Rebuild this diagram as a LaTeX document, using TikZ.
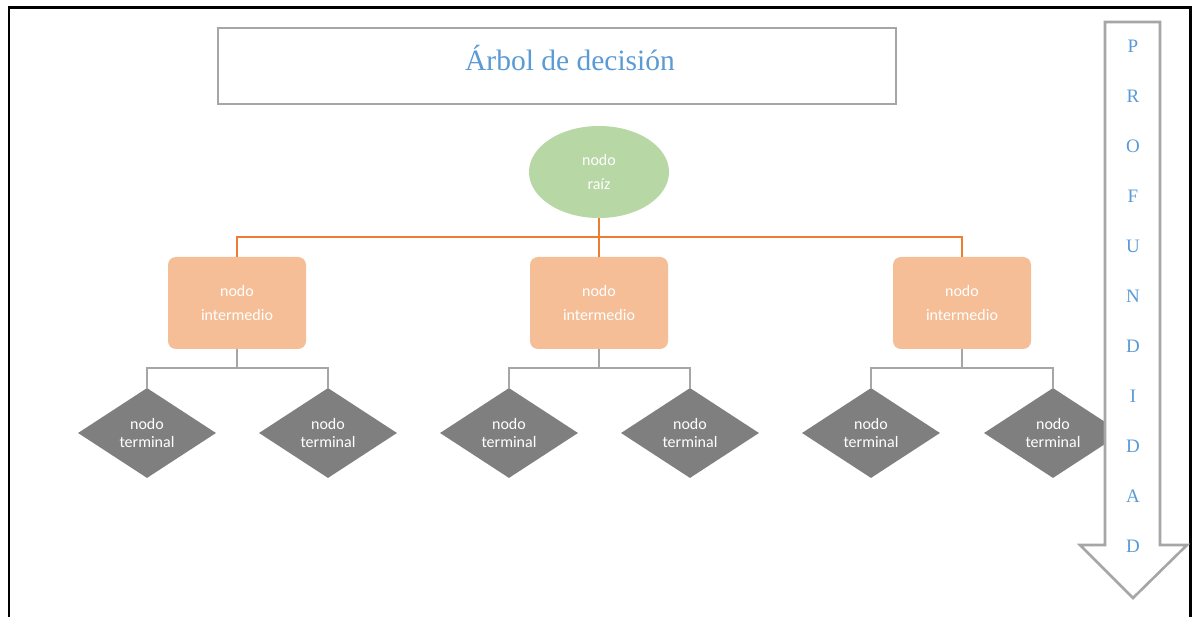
\documentclass[tikz,border=0pt]{standalone}
\usepackage{fontspec}
\setmainfont{Liberation Serif}
\newfontfamily\calib{Carlito}
\usetikzlibrary{shapes.geometric}
\definecolor{titleblue}{HTML}{5B9BD5}
\definecolor{rootgreen}{HTML}{B7D7A5}
\definecolor{midorange}{HTML}{F5BE96}
\definecolor{lineorange}{HTML}{ED7D31}
\definecolor{termgray}{HTML}{7F7F7F}
\definecolor{linegray}{HTML}{A6A6A6}
\tikzset{
  rootnode/.style={ellipse, fill=rootgreen, minimum width=140pt, minimum height=92pt, inner sep=0pt, text=white, align=center, font=\calib\fontsize{16}{24.5}\selectfont},
  midnode/.style={rectangle, rounded corners=8pt, fill=midorange, minimum width=138pt, minimum height=92pt, inner sep=0pt, text=white, align=center, font=\calib\fontsize{16}{24.5}\selectfont},
  termnode/.style={diamond, fill=termgray, minimum width=138pt, minimum height=90pt, inner sep=0pt, text=white, align=center, font=\calib\fontsize{16}{17.5}\selectfont},
  orangeline/.style={draw=lineorange, line width=2.8pt},
  grayline/.style={draw=linegray, line width=2.6pt},
  letter/.style={text=titleblue, font=\fontsize{19}{19}\selectfont, inner sep=0pt},
}
\begin{document}
\begin{tikzpicture}[x=1pt,y=-1pt]
\useasboundingbox (0,0) rectangle (1192,617);
\fill[white] (0,0) rectangle (1192,617);
% outer frame
\draw[black, line width=2.8pt] (9,640) -- (9,7.5) -- (1190.5,7.5) -- (1190.5,640);
% title
\node[draw=linegray, line width=2.6pt, minimum width=678pt, minimum height=76pt, inner sep=0pt] (titlebox) at (557,66) {};
\node[text=titleblue, font=\fontsize{29.5}{29.5}\selectfont, inner sep=0pt] (title) at (570,57.5) {Árbol de decisión};
% root
\node[rootnode] (root) at (599,172) {nodo\\raíz};
% intermediate
\node[midnode] (i1) at (237,303) {nodo\\intermedio};
\node[midnode] (i2) at (599,303) {nodo\\intermedio};
\node[midnode] (i3) at (962,303) {nodo\\intermedio};
% terminals
\node[termnode] (t1) at (147,433) {nodo\\terminal};
\node[termnode] (t2) at (328,433) {nodo\\terminal};
\node[termnode] (t3) at (509,433) {nodo\\terminal};
\node[termnode] (t4) at (690,433) {nodo\\terminal};
\node[termnode] (t5) at (871,433) {nodo\\terminal};
\node[termnode] (t6) at (1053,433) {nodo\\terminal};
% orange connectors
\coordinate (ob) at (599,237);
\draw[orangeline] (root.south) -- (ob);
\draw[orangeline] (ob) -| (i1.north);
\draw[orangeline] (ob) -| (i3.north);
\draw[orangeline] (ob) -- (i2.north);
% gray connectors
\coordinate (g1) at (237,368);
\coordinate (g2) at (599,368);
\coordinate (g3) at (962,368);
\draw[grayline] (i1.south) -- (g1);
\draw[grayline] (g1) -| (t1.north);
\draw[grayline] (g1) -| (t2.north);
\draw[grayline] (i2.south) -- (g2);
\draw[grayline] (g2) -| (t3.north);
\draw[grayline] (g2) -| (t4.north);
\draw[grayline] (i3.south) -- (g3);
\draw[grayline] (g3) -| (t5.north);
\draw[grayline] (g3) -| (t6.north);
% depth arrow
\draw[draw=linegray, line width=2.6pt, fill=white, line join=miter]
  (1105,22) -- (1160,22) -- (1160,545) -- (1187,545) -- (1133,598) -- (1080,545) -- (1105,545) -- cycle;
\node[letter] (l1) at (1133,46) {P};
\node[letter] (l2) at (1133,96) {R};
\node[letter] (l3) at (1133,146) {O};
\node[letter] (l4) at (1133,196) {F};
\node[letter] (l5) at (1133,246) {U};
\node[letter] (l6) at (1133,296) {N};
\node[letter] (l7) at (1133,346) {D};
\node[letter] (l8) at (1133,396) {I};
\node[letter] (l9) at (1133,446) {D};
\node[letter] (l10) at (1133,496) {A};
\node[letter] (l11) at (1133,546) {D};
\end{tikzpicture}
\end{document}
